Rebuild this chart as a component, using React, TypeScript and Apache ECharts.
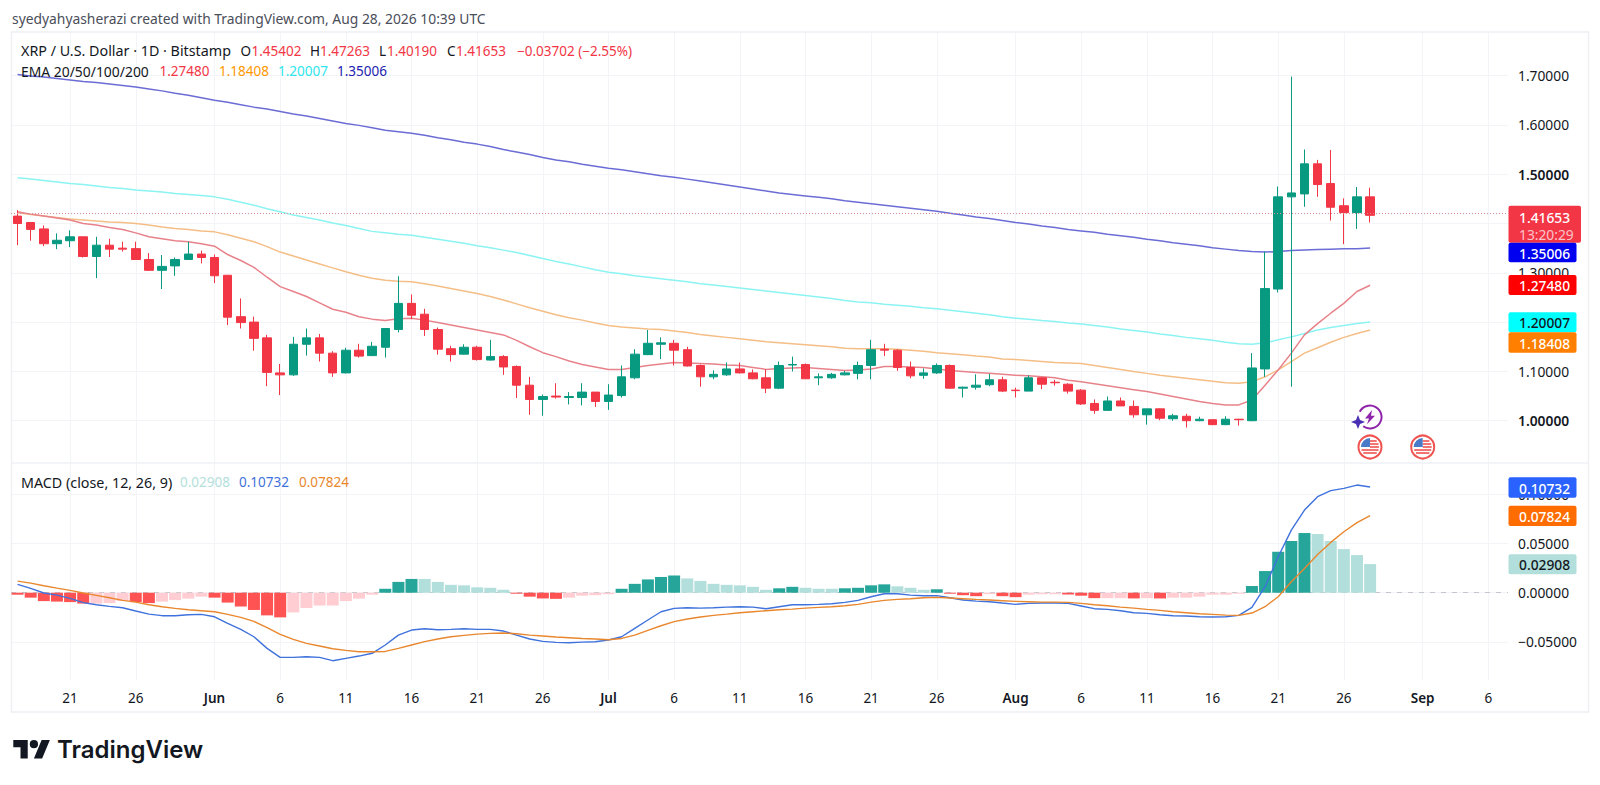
import React, { useEffect, useRef } from "react";
import * as echarts from "echarts";

const monthSpans: [string, number, number][] = [["May", 17, 31], ["Jun", 1, 30], ["Jul", 1, 31], ["Aug", 1, 31], ["Sep", 1, 7]];
const tickDays = [1, 6, 11, 16, 21, 26];

const opens = [
  1.415,1.402,1.389,1.359,1.365,1.373,1.333,1.356,1.350,1.349,
  1.327,1.305,1.314,1.327,1.338,1.331,1.295,1.211,1.200,1.168,
  1.097,1.093,1.155,1.168,1.137,1.097,1.143,1.132,1.149,1.185,
  1.238,1.216,1.185,1.146,1.135,1.149,1.123,1.130,1.110,1.072,
  1.043,1.050,1.047,1.047,1.058,1.039,1.051,1.087,1.134,1.155,
  1.157,1.144,1.112,1.089,1.093,1.105,1.097,1.087,1.066,1.113,
  1.114,1.087,1.087,1.093,1.096,1.112,1.145,1.143,1.108,1.092,
  1.097,1.112,1.066,1.068,1.073,1.083,1.062,1.060,1.087,1.078,
  1.074,1.062,1.035,1.021,1.040,1.029,1.012,1.024,1.004,1.009,
  1.000,1.002,0.992,1.003,1.000,1.105,1.267,1.454,1.460,1.521,
  1.481,1.436,1.422,1.45402,
];
const closes = [
  1.400,1.388,1.359,1.366,1.373,1.333,1.356,1.348,1.348,1.327,
  1.305,1.313,1.327,1.338,1.331,1.294,1.210,1.199,1.167,1.098,
  1.093,1.155,1.168,1.137,1.097,1.143,1.131,1.151,1.187,1.238,
  1.214,1.185,1.145,1.134,1.149,1.124,1.130,1.109,1.072,1.043,
  1.049,1.048,1.049,1.058,1.039,1.052,1.089,1.135,1.157,1.158,
  1.143,1.111,1.089,1.094,1.105,1.097,1.085,1.066,1.112,1.114,
  1.085,1.089,1.094,1.097,1.112,1.144,1.143,1.108,1.091,1.097,
  1.112,1.066,1.068,1.072,1.083,1.060,1.061,1.087,1.074,1.077,
  1.060,1.034,1.021,1.040,1.030,1.012,1.024,1.005,1.010,1.000,
  1.003,0.992,1.003,1.002,1.107,1.268,1.454,1.462,1.521,1.479,
  1.433,1.422,1.454,1.41653,
];
const lows = [
  1.356,1.365,1.354,1.348,1.352,1.331,1.289,1.332,1.343,1.327,
  1.304,1.267,1.294,1.327,1.319,1.279,1.194,1.187,1.142,1.070,
  1.052,1.091,1.132,1.120,1.089,1.096,1.128,1.131,1.128,1.179,
  1.206,1.172,1.134,1.120,1.134,1.122,1.122,1.093,1.046,1.012,
  1.010,1.045,1.033,1.031,1.028,1.022,1.047,1.084,1.133,1.125,
  1.112,1.110,1.069,1.084,1.091,1.096,1.084,1.056,1.064,1.100,
  1.085,1.072,1.085,1.092,1.084,1.084,1.131,1.101,1.086,1.085,
  1.095,1.065,1.047,1.063,1.070,1.058,1.047,1.060,1.064,1.071,
  1.055,1.032,1.014,1.020,1.030,1.006,0.992,1.001,1.000,0.986,
  0.999,0.991,0.991,0.990,0.999,1.089,1.260,1.069,1.434,1.454,
  1.406,1.358,1.389,1.40190,
];
const highs = [
  1.427,1.402,1.396,1.380,1.386,1.373,1.373,1.369,1.363,1.363,
  1.340,1.336,1.331,1.363,1.345,1.337,1.295,1.248,1.211,1.174,
  1.115,1.170,1.187,1.176,1.141,1.148,1.156,1.160,1.187,1.293,
  1.256,1.227,1.189,1.152,1.155,1.152,1.164,1.133,1.112,1.089,
  1.053,1.076,1.058,1.076,1.058,1.074,1.112,1.145,1.184,1.169,
  1.164,1.150,1.114,1.102,1.118,1.118,1.104,1.104,1.120,1.130,
  1.116,1.096,1.097,1.101,1.120,1.164,1.156,1.145,1.120,1.106,
  1.116,1.114,1.069,1.094,1.095,1.089,1.067,1.092,1.088,1.083,
  1.076,1.064,1.043,1.049,1.047,1.041,1.024,1.025,1.014,1.014,
  1.008,1.002,1.009,1.004,1.137,1.343,1.475,1.698,1.550,1.529,
  1.549,1.451,1.474,1.47263,
];

const ema20 = [
  1.424,1.419,1.415,1.411,1.407,1.400,1.397,1.392,1.388,1.381,
  1.373,1.369,1.365,1.363,1.359,1.354,1.337,1.325,1.311,1.291,
  1.272,1.262,1.252,1.239,1.226,1.220,1.211,1.206,1.203,1.207,
  1.208,1.204,1.199,1.194,1.189,1.184,1.179,1.174,1.163,1.150,
  1.138,1.130,1.121,1.114,1.109,1.104,1.104,1.108,1.112,1.115,
  1.118,1.117,1.116,1.115,1.113,1.112,1.108,1.104,1.106,1.107,
  1.108,1.106,1.104,1.102,1.103,1.105,1.110,1.110,1.109,1.108,
  1.105,1.102,1.100,1.098,1.096,1.094,1.092,1.091,1.089,1.087,
  1.082,1.079,1.075,1.071,1.067,1.063,1.059,1.054,1.049,1.044,
  1.039,1.035,1.032,1.032,1.042,1.072,1.103,1.137,1.174,1.197,
  1.218,1.238,1.262,1.2748,
];
const ema50 = [
  1.422,1.418,1.415,1.412,1.409,1.407,1.405,1.403,1.402,1.400,
  1.397,1.393,1.390,1.388,1.385,1.383,1.377,1.370,1.363,1.353,
  1.342,1.334,1.326,1.318,1.310,1.302,1.295,1.289,1.285,1.283,
  1.282,1.278,1.273,1.268,1.263,1.258,1.252,1.245,1.237,1.229,
  1.222,1.215,1.209,1.204,1.198,1.193,1.190,1.188,1.186,1.185,
  1.182,1.179,1.175,1.172,1.169,1.166,1.163,1.160,1.158,1.156,
  1.154,1.152,1.150,1.147,1.146,1.146,1.146,1.145,1.143,1.141,
  1.138,1.136,1.134,1.131,1.129,1.125,1.124,1.122,1.120,1.118,
  1.117,1.116,1.112,1.108,1.104,1.100,1.096,1.092,1.089,1.086,
  1.083,1.080,1.077,1.076,1.079,1.089,1.103,1.120,1.137,1.148,
  1.159,1.169,1.177,1.18408,
];
const ema100 = [
  1.493,1.490,1.487,1.484,1.481,1.479,1.476,1.473,1.471,1.468,
  1.466,1.464,1.461,1.459,1.457,1.454,1.449,1.443,1.437,1.430,
  1.424,1.417,1.412,1.407,1.401,1.396,1.390,1.384,1.381,1.378,
  1.376,1.372,1.368,1.364,1.360,1.355,1.351,1.346,1.341,1.335,
  1.329,1.323,1.318,1.312,1.306,1.301,1.298,1.294,1.291,1.288,
  1.285,1.282,1.278,1.275,1.272,1.269,1.266,1.263,1.260,1.257,
  1.254,1.251,1.248,1.244,1.241,1.239,1.236,1.234,1.232,1.229,
  1.227,1.224,1.221,1.218,1.215,1.211,1.208,1.206,1.203,1.201,
  1.198,1.196,1.193,1.190,1.186,1.183,1.180,1.176,1.173,1.169,
  1.166,1.163,1.159,1.156,1.155,1.158,1.164,1.170,1.177,1.184,
  1.189,1.193,1.197,1.20007,
];
const ema200 = [
  1.702,1.699,1.697,1.694,1.691,1.688,1.686,1.683,1.680,1.677,
  1.673,1.669,1.664,1.660,1.655,1.650,1.646,1.641,1.636,1.632,
  1.627,1.622,1.618,1.613,1.608,1.603,1.599,1.594,1.589,1.586,
  1.583,1.579,1.574,1.570,1.565,1.561,1.556,1.550,1.545,1.540,
  1.534,1.529,1.525,1.520,1.516,1.512,1.509,1.505,1.501,1.497,
  1.494,1.490,1.486,1.482,1.478,1.474,1.470,1.466,1.462,1.459,
  1.456,1.453,1.450,1.446,1.443,1.440,1.437,1.434,1.431,1.428,
  1.425,1.421,1.417,1.413,1.410,1.406,1.402,1.399,1.395,1.392,
  1.388,1.385,1.382,1.378,1.375,1.372,1.368,1.365,1.361,1.358,
  1.355,1.351,1.348,1.345,1.343,1.342,1.343,1.345,1.346,1.347,
  1.348,1.349,1.349,1.35006,
];

const histogram = [
  -.002,-.005,-.0085,-.009,-.0095,-.011,-.011,-.0105,-.0085,-.0095,
  -.0105,-.009,-.0075,-.006,-.004,-.005,-.010,-.014,-.0175,-.023,
  -.025,-.020,-.0155,-.013,-.013,-.0085,-.006,-.002,.004,.011,
  .014,.014,.011,.008,.0075,.0055,.005,.003,-.001,-.004,
  -.0058,-.0062,-.005,-.003,-.0025,-.0015,.004,.009,.0135,.016,
  .0175,.0145,.012,.009,.008,.0075,.006,.003,.0045,.006,
  .005,.004,.004,.0045,.005,.0075,.0085,.0065,.005,.003,
  .0035,-.001,-.0025,-.0035,-.0015,-.0035,-.0045,-.002,-.0015,-.0015,
  -.0018,-.003,-.0055,-.0055,-.0055,-.0058,-.0055,-.0058,-.005,-.005,
  -.004,-.002,-.002,-.001,.0068,.022,.0416,.0525,.0606,.0596,
  .0525,.0443,.0382,.02908,
];
const macdLine = [
  .0085,.0044,-.0003,-.0024,-.0058,-.010,-.0122,-.0139,-.0152,-.0186,
  -.0217,-.0233,-.0233,-.0223,-.022,-.0244,-.0311,-.0372,-.0447,-.0565,
  -.0656,-.0656,-.065,-.0656,-.069,-.0666,-.0643,-.0615,-.0531,-.043,
  -.0379,-.0365,-.0376,-.0372,-.0365,-.0372,-.0372,-.0389,-.043,-.047,
  -.0494,-.0504,-.0508,-.0501,-.0497,-.048,-.0447,-.0362,-.0277,-.0193,
  -.0159,-.0152,-.0156,-.0152,-.0146,-.0142,-.0146,-.0162,-.0142,-.0122,
  -.0122,-.0118,-.0112,-.0098,-.0078,-.0041,-.001,-.001,-.0024,-.003,
  -.003,-.0051,-.0074,-.0085,-.0091,-.0105,-.0118,-.0108,-.0105,-.0105,
  -.0108,-.0135,-.0162,-.0169,-.0183,-.0203,-.021,-.0223,-.0233,-.0237,
  -.0244,-.0247,-.0244,-.023,-.0149,.0061,.0365,.0636,.0839,.0975,
  .1036,.1059,.1093,.10732,
];
const signalLine = [
  .0118,.0098,.0071,.0047,.0024,-.0003,-.0027,-.0051,-.0078,-.0095,
  -.0122,-.0142,-.0159,-.0173,-.0183,-.0193,-.022,-.025,-.0291,-.0355,
  -.0423,-.0474,-.0514,-.0541,-.0569,-.0585,-.0599,-.0599,-.0596,-.0565,
  -.0531,-.0497,-.047,-.0447,-.0433,-.042,-.0413,-.0409,-.0416,-.043,
  -.044,-.045,-.0457,-.0464,-.047,-.0477,-.0464,-.043,-.0382,-.0335,
  -.0294,-.0267,-.0247,-.023,-.0217,-.0203,-.0193,-.0183,-.0173,-.0166,
  -.0156,-.0149,-.0142,-.0132,-.0118,-.0095,-.0078,-.0068,-.0061,-.0051,
  -.0047,-.0054,-.0061,-.0068,-.0074,-.0081,-.0088,-.0091,-.0095,-.0095,
  -.0098,-.0108,-.0122,-.0132,-.0146,-.0156,-.0169,-.0179,-.0193,-.0203,
  -.0213,-.022,-.0227,-.023,-.0206,-.0142,-.0041,.0112,.0247,.0389,
  .0511,.0619,.0711,.07824,
];

const priceGridTicks = [1.0, 1.1, 1.2, 1.3, 1.4, 1.5, 1.6, 1.7];
const priceLabelTicks = [1.0, 1.1, 1.3, 1.5, 1.6, 1.7];
const boldPriceTicks = [1.0, 1.5];
const macdTicks = [-0.05, 0, 0.05, 0.1];
const lastPrice = 1.41653;

const FONT = '"Noto Sans", "Open Sans", sans-serif';
const TEXT = "#131722";
const GRID = "#f3f4f7";
const UP = "#089981";
const DOWN = "#F23645";
const NUM = 13.8;

const categories: string[] = [];
monthSpans.forEach(([m, from, to]) => {
  for (let d = from; d <= to; d++) categories.push(`${m} ${d}`);
});
const isTick = (_: number, v: string) => tickDays.includes(Number(v.split(" ")[1]));
const tickText = (v: string) => {
  const [m, d] = v.split(" ");
  return d === "1" ? `{m|${m}}` : d;
};

const text = (x: number, y: number, t: string, fill: string, fontSize = 13.5, extra: any = {}) => ({
  type: "text",
  x,
  y,
  z: 100,
  silent: true,
  style: { text: t, fill, fontSize, fontFamily: FONT, align: "left", verticalAlign: "middle", ...extra },
});
const tag = (top: number, bottom: number, w: number, fill: string, t: string, color: string) => [
  { type: "rect", z: 90, shape: { x: 1508.5, y: top, width: w, height: bottom - top, r: 2 }, style: { fill } },
  text(1519, (top + bottom) / 2 + 0.5, t, color, NUM, { fontWeight: 500 }),
];
const flag = (cx: number, cy: number) => {
  const stripes = [-6, -3, 0, 3, 6].map((dy) => {
    const half = Math.sqrt(81 - dy * dy);
    const left = dy < 0.5 ? 0 : -half;
    return { type: "rect", z: 92, shape: { x: cx + left, y: cy + dy - 0.8, width: half - left, height: 1.6 }, style: { fill: "#EF5350" } };
  });
  return [
    { type: "circle", z: 91, shape: { cx, cy, r: 11.5 }, style: { fill: "#fff", stroke: "#EF5350", lineWidth: 2 } },
    ...stripes,
    { type: "sector", z: 93, shape: { cx, cy, r: 9, r0: 0, startAngle: Math.PI, endAngle: Math.PI * 1.5 }, style: { fill: "#4A7BC8" } },
  ];
};

const logoPath = "M14 22H7V11H0V4h14v18zM28 22h-8l7.5-18h8L28 22zM24 8a4 4 0 1 1-8 0 4 4 0 0 1 8 0z";
const boltPath = "M7 0L0 9h4L2 15 10 6H6z";

export default function App() {
  const ref = useRef<HTMLDivElement>(null);
  useEffect(() => {
    echarts.graphic.registerShape("tvLogo", echarts.graphic.extendPath(logoPath as any, {}));
    echarts.graphic.registerShape("tvBolt", echarts.graphic.extendPath(boltPath as any, {}));
    const chart = echarts.init(ref.current!, undefined, { renderer: "svg" });
    const xBase = {
      type: "category",
      data: categories,
      boundaryGap: true,
      axisLine: { show: false },
      axisTick: { show: false },
      splitLine: { show: true, interval: isTick, alignWithLabel: true, lineStyle: { color: GRID, width: 1 } },
    };
    const yBase = {
      type: "value",
      position: "right",
      axisLine: { show: false },
      axisTick: { show: false },
      splitLine: { show: true, lineStyle: { color: GRID, width: 1 } },
    };
    chart.setOption({
      animation: false,
      backgroundColor: "#ffffff",
      tooltip: { show: false },
      grid: [
        { left: 11, top: 32, width: 1497, height: 431 },
        { left: 11, top: 463, width: 1497, height: 217 },
      ],
      xAxis: [
        { ...xBase, gridIndex: 0, axisLabel: { show: false } },
        {
          ...xBase,
          gridIndex: 1,
          axisLabel: {
            show: true,
            interval: isTick,
            alignWithLabel: true,
            hideOverlap: false,
            margin: 11,
            color: TEXT,
            fontFamily: FONT,
            fontSize: 13.5,
            formatter: tickText,
            rich: { m: { fontFamily: FONT, fontSize: 13.5, fontWeight: 600, color: TEXT } },
          },
        },
      ],
      yAxis: [
        {
          ...yBase,
          gridIndex: 0,
          min: 0.9142,
          max: 1.7884,
          axisTick: { show: false, customValues: priceGridTicks },
          axisLabel: {
            customValues: priceLabelTicks,
            margin: 10,
            align: "left",
            color: TEXT,
            fontFamily: FONT,
            fontSize: NUM,
            formatter: (v: number) =>
              boldPriceTicks.some((b) => Math.abs(b - v) < 1e-6) ? `{b|${v.toFixed(5)}}` : v.toFixed(5),
            rich: { b: { fontFamily: FONT, fontSize: NUM, fontWeight: 600, color: TEXT } },
          },
        },
        {
          ...yBase,
          gridIndex: 1,
          min: -0.0886,
          max: 0.1317,
          axisTick: { show: false, customValues: macdTicks },
          axisLabel: {
            customValues: macdTicks,
            margin: 10,
            align: "left",
            color: TEXT,
            fontFamily: FONT,
            fontSize: NUM,
            formatter: (v: number) => v.toFixed(5).replace("-", "\u2212"),
          },
        },
      ],
      series: [
        { name: "EMA 200", type: "line", data: ema200, showSymbol: false, z: 2, lineStyle: { color: "#6C6CD6", width: 1.5 } },
        { name: "EMA 100", type: "line", data: ema100, showSymbol: false, z: 2, lineStyle: { color: "#8CF3F3", width: 1.5 } },
        { name: "EMA 50", type: "line", data: ema50, showSymbol: false, z: 2, lineStyle: { color: "#F4BE86", width: 1.5 } },
        { name: "EMA 20", type: "line", data: ema20, showSymbol: false, z: 2, lineStyle: { color: "#E8828A", width: 1.5 } },
        {
          name: "XRPUSD",
          type: "candlestick",
          barWidth: 9,
          z: 3,
          data: opens.map((o, i) => [o, closes[i], lows[i], highs[i]]),
          itemStyle: { color: UP, color0: DOWN, borderColor: UP, borderColor0: DOWN, borderWidth: 1 },
          markLine: {
            silent: true,
            symbol: "none",
            label: { show: false },
            lineStyle: { color: "#D98A92", type: [1, 2], width: 1 },
            data: [{ yAxis: lastPrice }],
          },
        },
        {
          name: "Histogram",
          type: "bar",
          xAxisIndex: 1,
          yAxisIndex: 1,
          barWidth: 12,
          z: 2,
          data: histogram,
          itemStyle: {
            color: (p: any) => {
              const v = histogram[p.dataIndex];
              const prev = p.dataIndex > 0 ? histogram[p.dataIndex - 1] : 0;
              if (v >= 0) return v > prev ? "#26A69A" : "#B2DFDB";
              return v < prev ? "#FF5252" : "#FFCDD2";
            },
          },
          markLine: {
            silent: true,
            symbol: "none",
            label: { show: false },
            lineStyle: { color: "#C4C7CE", type: [5, 6], width: 1 },
            data: [{ yAxis: 0 }],
            z: 1,
          },
        },
        { name: "MACD", type: "line", xAxisIndex: 1, yAxisIndex: 1, data: macdLine, showSymbol: false, z: 4, lineStyle: { color: "#3F72DC", width: 1.4 } },
        { name: "Signal", type: "line", xAxisIndex: 1, yAxisIndex: 1, data: signalLine, showSymbol: false, z: 4, lineStyle: { color: "#E8872E", width: 1.4 } },
      ],
      graphic: [
        { type: "rect", z: 1, shape: { x: 11.5, y: 32, width: 1577, height: 680 }, style: { fill: "none", stroke: "#EEF0F4", lineWidth: 1.5 } },
        { type: "line", z: 1, shape: { x1: 11.5, y1: 463, x2: 1588, y2: 463 }, style: { stroke: "#EEF0F4", lineWidth: 1.5 } },

        text(12, 18, "syedyahyasherazi created with TradingView.com, Aug 28, 2026 10:39 UTC", "#4A4E59", 13.85),

        text(21, 50.5, "XRP / U.S. Dollar \u00B7 1D \u00B7 Bitstamp", TEXT, 14.3),
        text(240.5, 50.5, "O", TEXT),
        text(251.5, 50.5, "1.45402", DOWN),
        text(310, 50.5, "H", TEXT),
        text(320, 50.5, "1.47263", DOWN),
        text(379, 50.5, "L", TEXT),
        text(387, 50.5, "1.40190", DOWN),
        text(447, 50.5, "C", TEXT),
        text(456, 50.5, "1.41653", DOWN),
        text(517, 50.5, "\u22120.03702 (\u22122.55%)", DOWN),

        text(21, 71, "EMA 20/50/100/200", TEXT, 13.9),
        text(159.5, 71, "1.27480", "#F23645"),
        text(219, 71, "1.18408", "#FF9800"),
        text(278, 71, "1.20007", "#2CE6EE"),
        text(337, 71, "1.35006", "#2222B0"),

        text(21, 482, "MACD (close, 12, 26, 9)", TEXT, 14.3),
        text(180, 482, "0.02908", "#B2DFDB"),
        text(239, 482, "0.10732", "#3F72DC"),
        text(299, 482, "0.07824", "#E8872E"),

        { type: "rect", z: 90, shape: { x: 1508.5, y: 205.7, width: 72.5, height: 37, r: 2 }, style: { fill: "#F23645" } },
        text(1519, 217, "1.41653", "#ffffff", NUM, { fontWeight: 500 }),
        text(1519, 234, "13:20:29", "#FBC4CA", NUM),
        ...tag(242.7, 262.3, 68, "#0000F0", "1.35006", "#ffffff"),
        ...tag(275, 295, 68, "#FF0000", "1.27480", "#ffffff"),
        ...tag(312.3, 332.3, 68, "#00FFFF", "1.20007", TEXT),
        ...tag(332.3, 352.7, 68, "#FF7F00", "1.18408", "#ffffff"),
        ...tag(477.3, 497.7, 68, "#2962FF", "0.10732", "#ffffff"),
        ...tag(505.7, 526, 68, "#FF6D00", "0.07824", "#ffffff"),
        ...tag(554.3, 574.3, 68, "#B2DFDB", "0.02908", TEXT),

        { type: "arc", z: 91, shape: { cx: 1370, cy: 417, r: 11.5, startAngle: -Math.PI * 0.85, endAngle: Math.PI * 0.7 }, style: { fill: "none", stroke: "#8E24AA", lineWidth: 2 } },
        { type: "tvBolt", z: 92, x: 1365, y: 410, scaleX: 1, scaleY: 0.95, shape: {}, style: { fill: "#8E24AA" } },
        { type: "polygon", z: 92, shape: { points: [[1358, 415], [1360, 420], [1365, 422], [1360, 424], [1358, 429], [1356, 424], [1351, 422], [1356, 420]] }, style: { fill: "#4A2FB5" } },
        ...flag(1370, 447),
        ...flag(1422.7, 447),

        { type: "tvLogo", z: 100, x: 13.3, y: 735.9, scaleX: 1.03, scaleY: 1.03, shape: {}, style: { fill: "#131722" } },
        text(57, 749, "TradingView", "#131722", 24, { fontWeight: 600, fontFamily: '"Inter", "Noto Sans", sans-serif' }),
      ],
    });
    return () => chart.dispose();
  }, []);
  return <div ref={ref} style={{ position: "absolute", left: 0, top: 0, width: 1600, height: 785, background: "#fff" }} />;
}
